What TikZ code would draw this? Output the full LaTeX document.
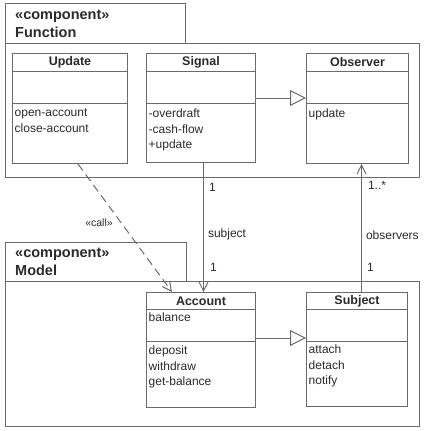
\documentclass[tikz,border=0pt]{standalone}
\usepackage{fontspec}
\setmainfont{Liberation Sans}
\usetikzlibrary{arrows.meta}
\definecolor{linegray}{HTML}{6A6A6A}
\definecolor{textgray}{HTML}{2B2B2B}

\begin{document}
\begin{tikzpicture}[x=1pt, y=-1pt,
		uml/.style={draw=linegray, line width=1pt},
		pkgbox/.style={uml, anchor=north west, inner sep=0pt},
		classbox/.style={uml, anchor=north west, inner sep=0pt},
		pkglabel/.style={anchor=west, align=left, inner sep=0pt, text=textgray, font=\fontsize{14.5}{18}\selectfont\bfseries},
		classname/.style={inner sep=0pt, text=textgray, font=\fontsize{12.5}{14}\selectfont\bfseries},
		members/.style={anchor=north west, align=left, inner sep=1pt, text=textgray, font=\fontsize{12}{15.5}\selectfont},
		role/.style={anchor=west, inner sep=0pt, text=textgray, font=\fontsize{12}{14}\selectfont},
		generalize/.style={uml, -{Triangle[open, length=16pt, width=16pt]}},
		navigate/.style={uml, -{Straight Barb[length=9pt, width=9pt]}},
		depend/.style={uml, dash pattern=on 8pt off 5pt, -{Straight Barb[length=9pt, width=9pt]}}]
		\useasboundingbox[fill=white] (0,0) rectangle (425,431); % Fix the page size

		\node[pkgbox, minimum width=180pt, minimum height=40pt] (functab) at (5,3) {}; % Function package tab
		\node[pkgbox, minimum width=414pt, minimum height=134pt] (function) at (5,43) {}; % Function package body
		\node[pkglabel] (functitle) at ([xshift=10pt]functab.west) {«component»\\Function};

		\node[pkgbox, minimum width=181pt, minimum height=39pt] (modeltab) at (5,242) {}; % Model package tab
		\node[pkgbox, minimum width=414pt, minimum height=145pt] (model) at (5,281) {}; % Model package body
		\node[pkglabel] (modeltitle) at ([xshift=10pt]modeltab.west) {«component»\\Model};

		\node[classbox, minimum width=115pt, minimum height=110pt] (update) at (12,53) {}; % Update class
		\node[classbox, minimum width=109pt, minimum height=109pt] (signal) at (146,53) {}; % Signal class
		\node[classbox, minimum width=102pt, minimum height=110pt] (observer) at (306,53) {}; % Observer class
		\node[classbox, minimum width=109pt, minimum height=115pt] (account) at (146,292) {}; % Account class
		\node[classbox, minimum width=101pt, minimum height=114pt] (subject) at (306,292) {}; % Subject class

		\foreach \c in {update,signal,observer} {
			\draw[uml] ([yshift=-18pt]\c.north west) -- ([yshift=-18pt]\c.north east); % Name compartment
			\draw[uml] ([yshift=-50pt]\c.north west) -- ([yshift=-50pt]\c.north east); % Attribute compartment
		}
		\foreach \c in {account,subject} {
			\draw[uml] ([yshift=-17pt]\c.north west) -- ([yshift=-17pt]\c.north east);
			\draw[uml] ([yshift=-49pt]\c.north west) -- ([yshift=-49pt]\c.north east);
		}

		\node[classname] (update-name) at ([yshift=-9.5pt]update.north) {Update};
		\node[classname] (signal-name) at ([yshift=-9.5pt]signal.north) {Signal};
		\node[classname] (observer-name) at ([yshift=-9.5pt]observer.north) {Observer};
		\node[classname] (account-name) at ([yshift=-9pt]account.north) {Account};
		\node[classname] (subject-name) at ([yshift=-9pt]subject.north) {Subject};

		\node[members] (update-ops) at ([xshift=1.5pt,yshift=-55pt]update.north west) {open-account\\close-account};
		\node[members] (signal-ops) at ([xshift=1.5pt,yshift=-55pt]signal.north west) {-overdraft\\-cash-flow\\+update};
		\node[members] (observer-ops) at ([xshift=1.5pt,yshift=-55pt]observer.north west) {update};
		\node[members] (account-attr) at ([xshift=1.5pt,yshift=-20pt]account.north west) {balance};
		\node[members] (account-ops) at ([xshift=1.5pt,yshift=-53pt]account.north west) {deposit\\withdraw\\get-balance};
		\node[members] (subject-ops) at ([xshift=1.5pt,yshift=-52pt]subject.north west) {attach\\detach\\notify};

		\draw[generalize] ([yshift=-45pt]signal.north east) -- ([yshift=-45pt]observer.north west); % Signal is an Observer
		\draw[generalize] ([yshift=-46pt]account.north east) -- ([yshift=-46pt]subject.north west); % Account is a Subject

		\draw[navigate] ([xshift=2.5pt]signal.south) -- ([xshift=2.5pt]account.north)
			node[role, pos=0.19, xshift=5pt] {1}
			node[role, pos=0.55, xshift=4pt] {subject}
			node[role, pos=0.81, xshift=6pt] {1};
		\draw[navigate] ([xshift=4.5pt]subject.north) -- ([xshift=4pt]observer.south)
			node[role, pos=0.19, xshift=5pt] {1}
			node[role, pos=0.44, xshift=4pt] {observers}
			node[role, pos=0.83, xshift=6pt] {1..*};

		\draw[depend] ([xshift=8pt]update.south) -- ([xshift=26pt]account.north west)
			node[pos=0.46, anchor=east, xshift=-8pt, inner sep=0pt, text=textgray, font=\fontsize{10.5}{12}\selectfont] (call) {«call»};
	\end{tikzpicture}
\end{document}
